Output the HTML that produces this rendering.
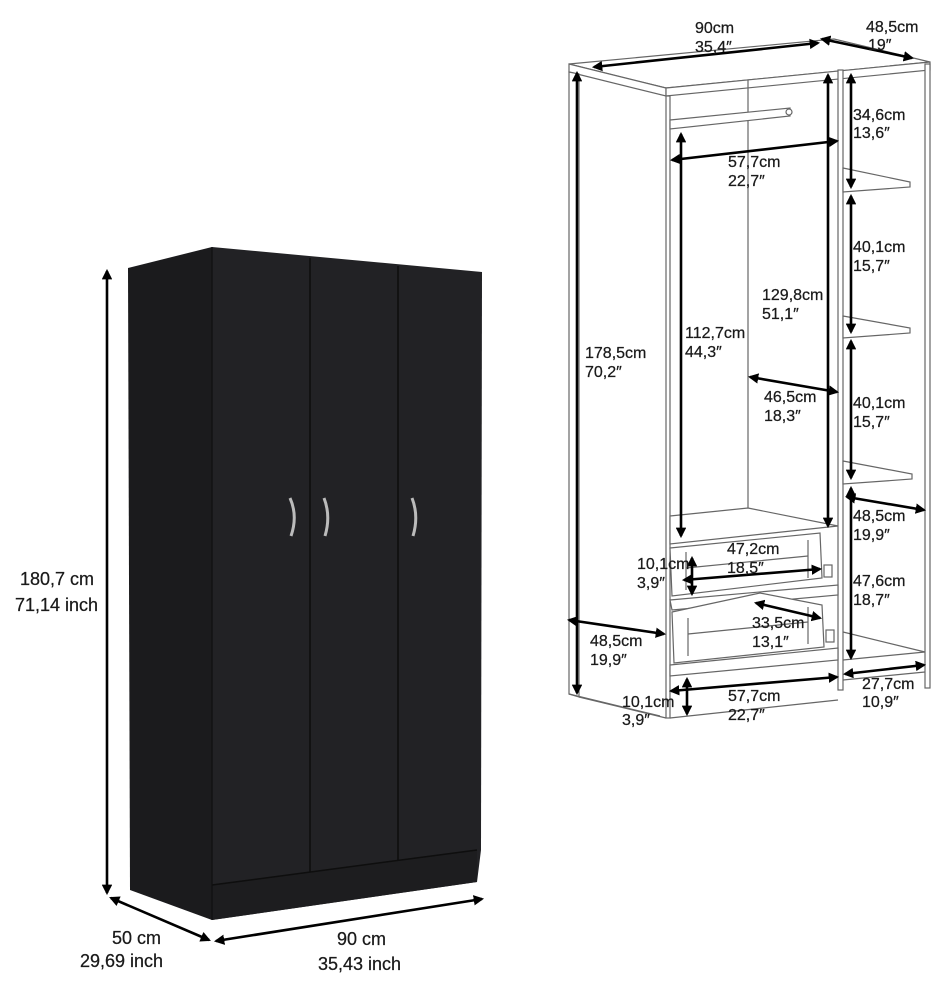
<!DOCTYPE html>
<html><head><meta charset="utf-8"><style>
html,body{margin:0;padding:0;background:#fff;}
svg{display:block;}
text{font-family:"Liberation Sans",sans-serif;fill:#1a1a1a;stroke:#1a1a1a;stroke-width:0.25;}
.s{font-size:16px;}
.b{font-size:18px;}
.ln{stroke:#666;stroke-width:1.2;fill:none;}
.pn{stroke:#666;stroke-width:1.2;fill:#fff;}
.ar{stroke:#000;stroke-width:2.6;fill:none;marker-start:url(#h);marker-end:url(#h);}
</style></head><body>
<svg width="950" height="990" viewBox="0 0 950 990" xmlns="http://www.w3.org/2000/svg">
<defs>
<marker id="h" viewBox="0 0 10 10" refX="8" refY="5" markerWidth="4" markerHeight="4" orient="auto-start-reverse" markerUnits="strokeWidth"><path d="M0,0 L10,5 L0,10 z" fill="#000"/></marker>
</defs>

<!-- LEFT CABINET -->
<polygon points="128,268 212,247 212,920 130,890" fill="#1b1b1d"/>
<polygon points="212,247 482,272 481,850 477,882 212,920" fill="#222225"/>
<polygon points="212,885 477,850 477,882 212,920" fill="#1d1d1f"/>
<line x1="310" y1="258" x2="310" y2="872" stroke="#0c0c0c" stroke-width="1.5"/>
<line x1="398" y1="266" x2="398" y2="860" stroke="#0c0c0c" stroke-width="1.5"/>
<line x1="212" y1="885" x2="477" y2="850" stroke="#0e0e0e" stroke-width="1.5"/>
<line x1="212" y1="247" x2="212" y2="920" stroke="#0f0f10" stroke-width="1.2"/>
<path d="M290,498 Q298,516 291,536" stroke="#bbb" stroke-width="3" fill="none"/>
<path d="M324,498 Q331,516 325,536" stroke="#bbb" stroke-width="3" fill="none"/>
<path d="M412,498 Q419,516 413,536" stroke="#bbb" stroke-width="3" fill="none"/>

<line class="ar" x1="107" y1="271" x2="107" y2="893"/>
<line class="ar" x1="111" y1="898" x2="209" y2="940"/>
<line class="ar" x1="216" y1="941" x2="482" y2="899"/>
<text class="b" x="20" y="585">180,7 cm</text>
<text class="b" x="15" y="611">71,14 inch</text>
<text class="b" x="112" y="944">50 cm</text>
<text class="b" x="80" y="967">29,69 inch</text>
<text class="b" x="337" y="945">90 cm</text>
<text class="b" x="318" y="970">35,43 inch</text>

<!-- RIGHT DIAGRAM -->
<polygon class="pn" points="569,64 834,39 930,62 666,88"/>
<polygon class="pn" points="569,64 666,88 666,96 569,72"/>
<polygon class="pn" points="666,88 930,62 930,70 666,96"/>
<polygon class="pn" points="569,72 579,74 579,697 569,694"/>
<line class="ln" x1="579" y1="697" x2="666" y2="718"/>
<line class="ln" x1="569" y1="694" x2="660" y2="716"/>
<rect class="pn" x="666" y="96" width="4" height="622"/>
<rect class="pn" x="838" y="70" width="5" height="620"/>
<rect class="pn" x="925" y="64" width="5" height="624"/>
<line class="ln" x1="748" y1="80" x2="748" y2="512"/>
<line class="ln" x1="843" y1="660" x2="925" y2="652"/>
<line class="ln" x1="843" y1="680" x2="925" y2="672"/>
<line class="ln" x1="670" y1="718" x2="838" y2="700"/>
<polygon class="pn" points="670,120 790,108 790,116 670,129"/>
<circle cx="789" cy="112" r="3" class="pn"/>
<polygon class="pn" points="843,168 910,182 910,187 843,192"/>
<polygon class="pn" points="843,316 910,328 910,333 843,338"/>
<polygon class="pn" points="843,461 912,474 912,479 843,484"/>
<line class="ln" x1="843" y1="632" x2="925" y2="652"/>
<polygon class="pn" points="670,516 748,508 838,526 670,544"/>
<polygon class="pn" points="670,548 820,533 822,578 672,596"/>
<line class="ln" x1="686" y1="568" x2="808" y2="556"/>
<line class="ln" x1="686" y1="552" x2="686" y2="590"/>
<line class="ln" x1="808" y1="540" x2="808" y2="578"/>
<polygon class="pn" points="670,600 838,585 838,595 672,610"/>
<polygon class="pn" points="672,612 760,593 822,605 824,647 674,663"/>
<line class="ln" x1="688" y1="634" x2="808" y2="622"/>
<line class="ln" x1="688" y1="618" x2="688" y2="656"/>
<line class="ln" x1="808" y1="607" x2="808" y2="644"/>
<polygon class="pn" points="670,665 838,648 838,660 670,676"/>
<rect class="pn" x="824" y="565" width="8" height="12"/>
<rect class="pn" x="826" y="630" width="8" height="12"/>

<line class="ar" x1="594" y1="67" x2="818" y2="43"/>
<line class="ar" x1="822" y1="39" x2="912" y2="58"/>
<line class="ar" x1="577" y1="73" x2="577" y2="693"/>
<line class="ar" x1="672" y1="160" x2="837" y2="141"/>
<line class="ar" x1="681" y1="134" x2="681" y2="536"/>
<line class="ar" x1="828" y1="75" x2="828" y2="526"/>
<line class="ar" x1="851" y1="75" x2="851" y2="187"/>
<line class="ar" x1="851" y1="196" x2="851" y2="332"/>
<line class="ar" x1="851" y1="341" x2="851" y2="478"/>
<line class="ar" x1="750" y1="377" x2="837" y2="392"/>
<line class="ar" x1="847" y1="497" x2="924" y2="510"/>
<line class="ar" x1="851" y1="488" x2="851" y2="658"/>
<line class="ar" x1="692" y1="558" x2="692" y2="594"/>
<line class="ar" x1="684" y1="580" x2="820" y2="569"/>
<line class="ar" x1="756" y1="603" x2="820" y2="618"/>
<line class="ar" x1="569" y1="620" x2="664" y2="634"/>
<line class="ar" x1="671" y1="691" x2="837" y2="677"/>
<line class="ar" x1="687" y1="679" x2="687" y2="714"/>
<line class="ar" x1="845" y1="674" x2="924" y2="665"/>

<text class="s" x="695" y="33">90cm</text>
<text class="s" x="695" y="52">35,4″</text>
<text class="s" x="866" y="32">48,5cm</text>
<text class="s" x="868" y="50">19″</text>
<text class="s" x="853" y="120">34,6cm</text>
<text class="s" x="853" y="138">13,6″</text>
<text class="s" x="728" y="167">57,7cm</text>
<text class="s" x="728" y="186">22,7″</text>
<text class="s" x="853" y="252">40,1cm</text>
<text class="s" x="853" y="271">15,7″</text>
<text class="s" x="762" y="300">129,8cm</text>
<text class="s" x="762" y="319">51,1″</text>
<text class="s" x="685" y="338">112,7cm</text>
<text class="s" x="685" y="357">44,3″</text>
<text class="s" x="585" y="358">178,5cm</text>
<text class="s" x="585" y="377">70,2″</text>
<text class="s" x="764" y="402">46,5cm</text>
<text class="s" x="764" y="421">18,3″</text>
<text class="s" x="853" y="408">40,1cm</text>
<text class="s" x="853" y="427">15,7″</text>
<text class="s" x="853" y="521">48,5cm</text>
<text class="s" x="853" y="540">19,9″</text>
<text class="s" x="727" y="554">47,2cm</text>
<text class="s" x="727" y="573">18,5″</text>
<text class="s" x="637" y="569">10,1cm</text>
<text class="s" x="637" y="588">3,9″</text>
<text class="s" x="853" y="586">47,6cm</text>
<text class="s" x="853" y="605">18,7″</text>
<text class="s" x="752" y="628">33,5cm</text>
<text class="s" x="752" y="647">13,1″</text>
<text class="s" x="590" y="646">48,5cm</text>
<text class="s" x="590" y="665">19,9″</text>
<text class="s" x="622" y="707">10,1cm</text>
<text class="s" x="622" y="725">3,9″</text>
<text class="s" x="728" y="701">57,7cm</text>
<text class="s" x="728" y="720">22,7″</text>
<text class="s" x="862" y="689">27,7cm</text>
<text class="s" x="862" y="707">10,9″</text>
</svg>
</body></html>
